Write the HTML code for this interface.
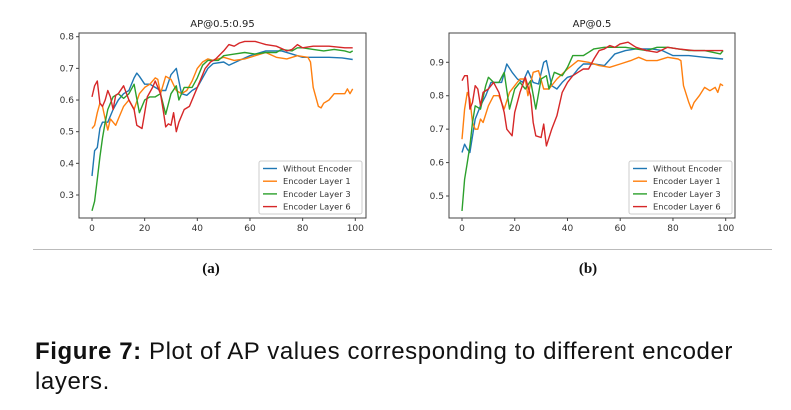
<!DOCTYPE html>
<html><head><meta charset="utf-8"><style>
body{margin:0;background:#fff;width:791px;height:410px;overflow:hidden;position:relative;font-family:"DejaVu Sans","Liberation Sans",sans-serif}
svg{position:absolute;left:0;top:0}
.cap{position:absolute;left:35px;top:337px;font-family:"Liberation Sans",sans-serif;font-size:24px;letter-spacing:0.6px;line-height:30px;color:#111;width:760px;white-space:nowrap}
</style></head><body>
<svg id="fig" width="791" height="410"></svg>
<div class="cap"><b>Figure 7:</b> Plot of AP values corresponding to different encoder<br>layers.</div>
<script>
const seriesNames=["Without Encoder","Encoder Layer 1","Encoder Layer 3","Encoder Layer 6"];
const colors=["#1f77b4","#ff7f0e","#2ca02c","#d62728"];
const xTicks=[0,20,40,60,80,100];
const yTicksA=[0.3,0.4,0.5,0.6,0.7,0.8];
const yTicksB=[0.5,0.6,0.7,0.8,0.9];
// chart A: AP@0.5:0.95
const aBlueX=[0,1,2,3,4,6,8,10,12,14,16,17,18,20,22,24,26,28,30,32,34,36,38,40,42,44,46,50,52,56,60,66,72,76,80,86,90,95,99];
const aBlueY=[.36,.44,.45,.51,.53,.53,.57,.60,.62,.63,.67,.685,.675,.65,.65,.64,.63,.63,.68,.70,.62,.615,.63,.64,.67,.70,.715,.72,.71,.725,.74,.755,.755,.745,.735,.735,.735,.733,.728];
const aOrangeX=[0,1,2,3,4,5,6,7,8,9,10,12,14,16,18,20,22,24,25,26,28,30,32,34,36,38,40,42,44,46,50,54,58,62,66,70,74,78,82,83,84,86,87,88,90,92,94,96,97,98,99];
const aOrangeY=[.51,.52,.56,.59,.58,.54,.505,.54,.53,.52,.54,.58,.60,.57,.62,.64,.65,.67,.665,.62,.675,.665,.63,.62,.63,.66,.70,.72,.73,.725,.735,.725,.73,.74,.75,.735,.73,.74,.735,.72,.64,.58,.575,.59,.60,.62,.62,.62,.635,.62,.635];
const aGreenX=[0,1,2,3,4,5,6,8,10,12,14,16,18,20,22,24,26,28,30,32,33,35,38,40,42,44,48,50,54,58,62,66,70,72,76,78,80,84,88,92,96,98,99];
const aGreenY=[.25,.28,.35,.42,.48,.53,.57,.61,.62,.605,.62,.65,.56,.60,.61,.61,.62,.555,.62,.645,.60,.64,.64,.67,.71,.725,.725,.74,.745,.75,.745,.75,.75,.76,.755,.765,.765,.76,.755,.76,.755,.75,.755];
const aRedX=[0,1,2,3,4,5,6,7,8,9,10,12,14,16,17,18,19,20,21,23,24,26,27,28,29,30,31,32,33,35,37,39,41,43,45,47,50,52,54,56,58,62,64,66,70,74,76,78,80,84,90,96,99];
const aRedY=[.61,.645,.66,.59,.58,.60,.63,.61,.57,.615,.62,.645,.60,.57,.52,.515,.51,.56,.61,.64,.66,.62,.57,.515,.525,.52,.56,.50,.53,.57,.58,.62,.66,.70,.72,.73,.755,.775,.77,.78,.785,.785,.78,.775,.77,.755,.76,.775,.765,.77,.77,.765,.765];
// chart B: AP@0.5
const bBlueX=[0,1,2,3,5,7,9,11,13,15,17,19,21,23,25,27,29,31,32,34,36,38,40,42,44,46,50,54,58,62,66,72,76,80,86,92,99];
const bBlueY=[.63,.655,.64,.63,.73,.77,.80,.84,.84,.84,.895,.87,.85,.84,.875,.84,.835,.90,.905,.83,.82,.84,.855,.86,.88,.895,.895,.89,.925,.935,.94,.94,.935,.92,.92,.915,.91];
const bOrangeX=[0,1,2,3,4,5,6,7,8,10,12,14,16,18,20,22,24,25,27,29,31,33,36,40,44,48,52,56,60,64,67,70,74,78,82,83,84,86,87,88,90,92,94,96,97,98,99];
const bOrangeY=[.67,.76,.81,.79,.72,.70,.70,.73,.72,.77,.80,.80,.76,.81,.83,.85,.85,.80,.87,.875,.82,.82,.85,.88,.905,.90,.89,.885,.895,.905,.915,.905,.905,.915,.91,.905,.83,.78,.76,.78,.80,.825,.815,.825,.81,.835,.83];
const bGreenX=[0,1,2,3,4,5,7,9,10,12,14,16,18,20,22,24,26,28,30,32,33,35,38,40,42,46,48,50,54,58,62,66,70,74,78,82,86,92,98,99];
const bGreenY=[.455,.55,.60,.65,.72,.77,.76,.83,.855,.84,.84,.87,.76,.82,.84,.82,.845,.76,.85,.86,.82,.87,.86,.885,.92,.92,.93,.94,.945,.945,.945,.94,.935,.945,.945,.94,.935,.935,.925,.935];
const bRedX=[0,1,2,3,4,5,6,7,8,10,12,14,16,17,19,20,22,24,26,27,28,30,31,32,34,36,38,40,42,44,46,48,50,52,54,56,58,60,63,66,70,74,78,82,88,94,99];
const bRedY=[.845,.86,.86,.76,.78,.83,.82,.77,.81,.82,.84,.81,.75,.70,.68,.75,.81,.855,.80,.72,.68,.675,.715,.65,.70,.74,.81,.84,.86,.87,.88,.88,.91,.935,.94,.95,.945,.955,.96,.945,.935,.93,.945,.94,.935,.935,.935];

const NS="http://www.w3.org/2000/svg";
const svg=document.getElementById('fig');
function mk(tag,attrs,parent){const e=document.createElementNS(NS,tag);for(const k in attrs)e.setAttribute(k,attrs[k]);(parent||svg).appendChild(e);return e;}

function chart(cfg){
  const g=mk('g',{});
  
  
  const sx=v=>cfg.x0+(v-0)*(cfg.x100-cfg.x0)/100;
  const sy=v=>cfg.yA+(cfg.vA-v)*(cfg.yB-cfg.yA)/(cfg.vA-cfg.vB);
  const fr=mk('rect',{x:cfg.L,y:cfg.T,width:cfg.R-cfg.L,height:cfg.B-cfg.T,fill:'#fff',stroke:'#444','stroke-width':1},g);
  
  
  const t=mk('text',{x:(cfg.L+cfg.R)/2,y:cfg.T-6,'text-anchor':'middle','font-size':10,fill:'#222','font-family':'DejaVu Sans, sans-serif'},g);
  t.textContent=cfg.title;
  
  
  xTicks.forEach(v=>{
    const x=sx(v);
    mk('line',{x1:x,x2:x,y1:cfg.B,y2:cfg.B+3,stroke:'#444'},g);
    const l=mk('text',{x:x,y:cfg.B+13,'text-anchor':'middle','font-size':9,fill:'#333','font-family':'DejaVu Sans, sans-serif'},g);
    l.textContent=v;
    
    
  });
  cfg.yTicks.forEach(v=>{
    const y=sy(v);
    mk('line',{x1:cfg.L-3,x2:cfg.L,y1:y,y2:y,stroke:'#444'},g);
    const l=mk('text',{x:cfg.L-5,y:y+3,'text-anchor':'end','font-size':9,fill:'#333','font-family':'DejaVu Sans, sans-serif'},g);
    l.textContent=v.toFixed(1);
    
    
  });
  cfg.series.forEach((s,i)=>{
    const pts=s[0].map((xv,j)=>sx(xv).toFixed(1)+','+sy(s[1][j]).toFixed(1)).join(' ');
    const p=mk('polyline',{points:pts,fill:'none',stroke:colors[i],'stroke-width':1.4,'stroke-linejoin':'round'},g);
    
    
  });
  const lg=mk('g',{},g);
  
  
  mk('rect',{x:cfg.lgX,y:161,width:103,height:53,rx:2,fill:'#fff',stroke:'#ccc'},lg);
  seriesNames.forEach((n,i)=>{
    const y=168.5+i*12.7;
    mk('line',{x1:cfg.lgX+4,x2:cfg.lgX+18,y1:y,y2:y,stroke:colors[i],'stroke-width':1.4},lg);
    const tx=mk('text',{x:cfg.lgX+24,y:y+3,'font-size':8.3,fill:'#333','font-family':'DejaVu Sans, sans-serif'},lg);
    tx.textContent=n;
    
    
  });
}
chart({name:'chart-ap-50-95',title:'AP@0.5:0.95',L:79,R:366,T:33,B:218,x0:92,x100:355.3,yA:36.7,vA:0.8,yB:195,vB:0.3,yTicks:yTicksA,lgX:259,
  series:[[aBlueX,aBlueY],[aOrangeX,aOrangeY],[aGreenX,aGreenY],[aRedX,aRedY]]});
chart({name:'chart-ap-50',title:'AP@0.5',L:449,R:735,T:33,B:218,x0:462,x100:725.7,yA:62.3,vA:0.9,yB:196,vB:0.5,yTicks:yTicksB,lgX:629,
  series:[[bBlueX,bBlueY],[bOrangeX,bOrangeY],[bGreenX,bGreenY],[bRedX,bRedY]]});
const hr=mk('line',{x1:33,x2:772,y1:249.5,y2:249.5,stroke:'#bbb','stroke-width':1});


[['(a)',211],['(b)',588]].forEach(([s,x])=>{
  const t=mk('text',{x:x,y:273,'text-anchor':'middle','font-size':15,'font-weight':'bold',fill:'#111','font-family':'Liberation Serif, serif'});
  t.textContent=s;
  
  
});
</script>
</body></html>
